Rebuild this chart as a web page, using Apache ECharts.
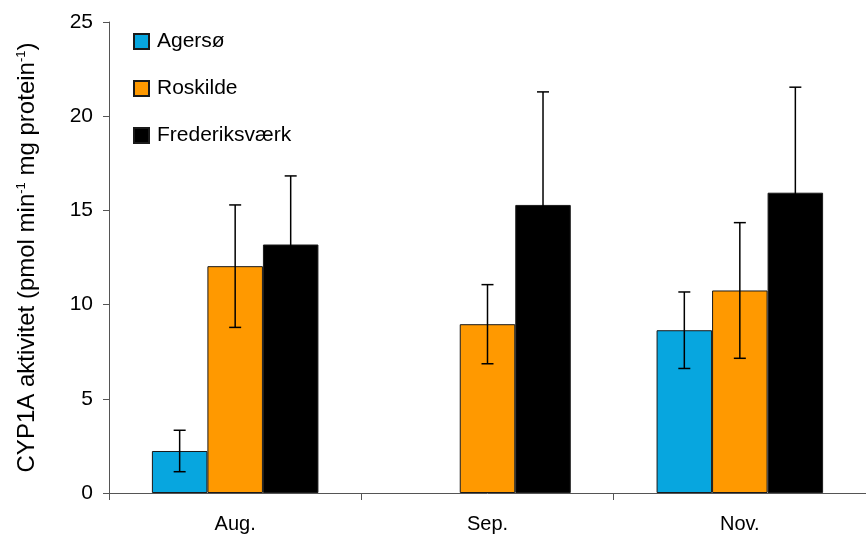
<!DOCTYPE html>
<html>
<head>
<meta charset="utf-8">
<script src="https://cdn.jsdelivr.net/npm/echarts@6/dist/echarts.min.js"></script>
<style>
  html, body { margin: 0; padding: 0; background: #fff; }
  #chart { width: 866px; height: 534px; }
</style>
</head>
<body>
<div id="chart"></div>
<script>
// months on the x axis
let months = ["Aug.", "Sep.", "Nov."];
let seriesNames = ["Agersø", "Roskilde", "Frederiksværk"];
let seriesColors = ["#07A6DF", "#FF9900", "#000000"];

// mean values
let agersoe = [2.23, null, 8.64];
let roskilde = [12.04, 8.96, 10.75];
let frederiksvaerk = [13.19, 15.29, 15.94];

// error bar half-lengths
let agersoeErr = [1.1, null, 2.03];
let roskildeErr = [3.25, 2.1, 3.6];
let frederiksvaerkErr = [3.64, 6.0, 5.6];

let yTicks = [0, 5, 10, 15, 20, 25];

let barFrac = 0.22;
let allValues = [agersoe, roskilde, frederiksvaerk];
let allErrs = [agersoeErr, roskildeErr, frederiksvaerkErr];

let errData = [];
allValues.forEach(function (vals, s) {
  vals.forEach(function (v, i) {
    if (v != null) errData.push([i, v, allErrs[s][i], s]);
  });
});

let font = "Liberation Sans, Arial, sans-serif";

let barSeries = allValues.map(function (vals, s) {
  return {
    name: seriesNames[s],
    type: "bar",
    barWidth: barFrac * 100 + "%",
    barGap: "0%",
    data: vals,
    itemStyle: {
      color: seriesColors[s],
      borderColor: "#1a1a1a",
      borderWidth: 1,
    },
    z: 2,
  };
});

let options = {
  animation: false,
  grid: {
    left: 109,
    right: 0,
    top: 22,
    bottom: 41,
  },
  legend: {
    orient: "vertical",
    left: 128,
    top: 26,
    itemWidth: 15,
    itemHeight: 15,
    itemGap: 26,
    icon: "rect",
    data: seriesNames,
    textStyle: {
      fontFamily: font,
      fontSize: 21,
      color: "#000",
      padding: [0, 0, 0, 3],
    },
  },
  xAxis: {
    type: "category",
    data: months,
    axisLine: { lineStyle: { color: "#555", width: 1 } },
    axisTick: { show: true, length: 7, lineStyle: { color: "#555" } },
    axisLabel: {
      fontFamily: font,
      fontSize: 20,
      color: "#000",
      margin: 21,
    },
  },
  yAxis: {
    type: "value",
    min: 0,
    max: 25,
    interval: 5,
    splitLine: { show: false },
    axisLine: { show: true, lineStyle: { color: "#555", width: 1 } },
    axisTick: { show: true, length: 6, lineStyle: { color: "#555" } },
    axisLabel: {
      fontFamily: font,
      fontSize: 21,
      color: "#000",
      margin: 16,
    },
    name: "{n|CYP1A aktivitet (pmol min}{s|-1}{n| mg protein}{s|-1}{n|)}",
    nameLocation: "middle",
    nameGap: 70,
    nameRotate: 90,
    nameTextStyle: {
      rich: {
        n: { fontFamily: font, fontSize: 24, color: "#000", lineHeight: 26, verticalAlign: "bottom" },
        s: { fontFamily: font, fontSize: 13, color: "#000", lineHeight: 26, verticalAlign: "top", padding: [2, 0, 0, 0] },
      },
    },
  },
  series: barSeries.concat([
    {
      name: "err",
      type: "custom",
      z: 5,
      data: errData,
      encode: { x: 0, y: 1 },
      renderItem: function (params, api) {
        let cat = api.value(0);
        let v = api.value(1);
        let e = api.value(2);
        let s = api.value(3);
        let catW = api.size([1, 0])[0];
        let dx = (s - 1) * barFrac * catW;
        let top = api.coord([cat, v + e]);
        let bot = api.coord([cat, v - e]);
        let x = top[0] + dx;
        let cap = 6;
        let style = { stroke: "#000", lineWidth: 1.5 };
        return {
          type: "group",
          children: [
            { type: "line", shape: { x1: x, y1: top[1], x2: x, y2: bot[1] }, style: style },
            { type: "line", shape: { x1: x - cap, y1: top[1], x2: x + cap, y2: top[1] }, style: style },
            { type: "line", shape: { x1: x - cap, y1: bot[1], x2: x + cap, y2: bot[1] }, style: style },
          ],
        };
      },
    },
  ]),
};

let chart = echarts.init(document.getElementById("chart"));
chart.setOption(options);
</script>
</body>
</html>
